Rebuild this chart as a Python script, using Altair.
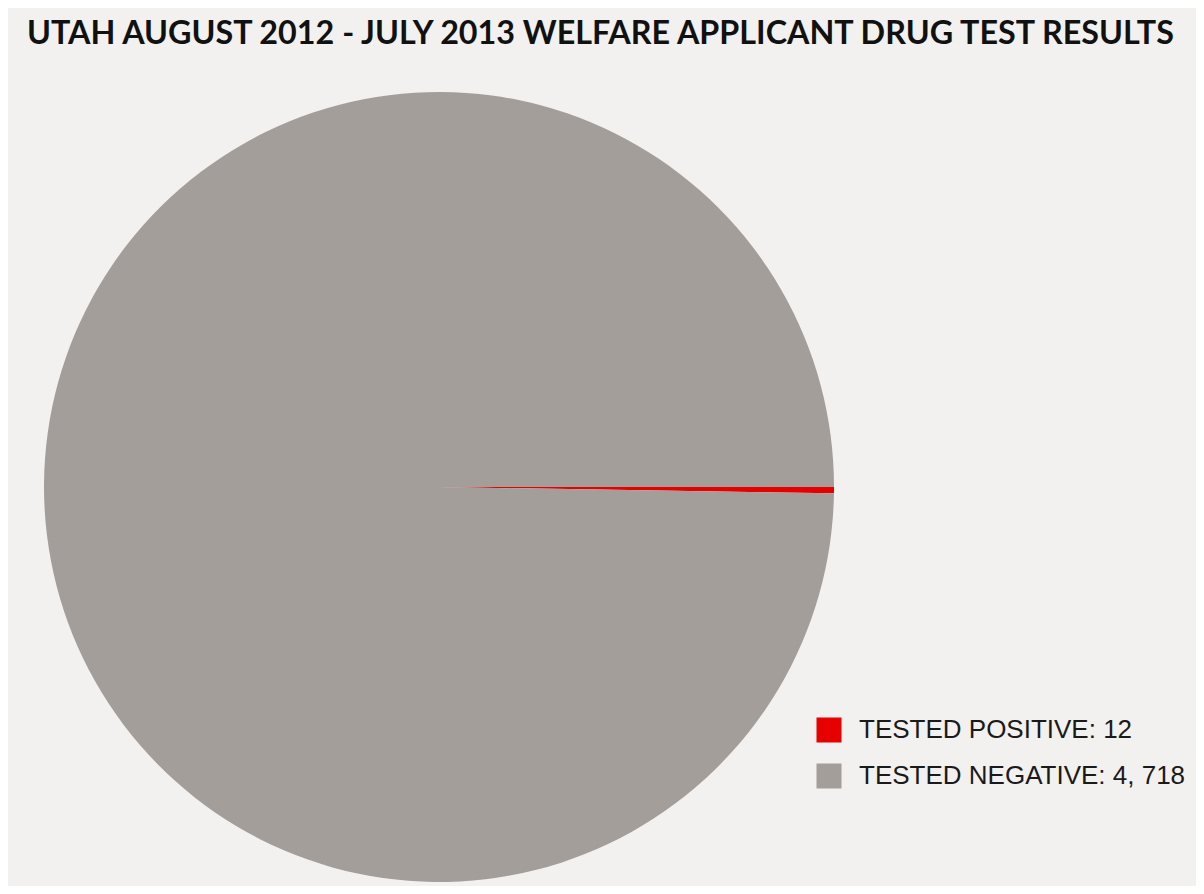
import math
import altair as alt
import pandas as pd

categories = ["TESTED POSITIVE", "TESTED NEGATIVE"]
counts = [12, 4718]
count_labels = ["12", "4, 718"]
colors = ["#e60000", "#a39e99"]
title_text = "UTAH AUGUST 2012 - JULY 2013  WELFARE APPLICANT DRUG TEST RESULTS"

df = pd.DataFrame({
    "result": [f"{c}: {l}" for c, l in zip(categories, count_labels)],
    "count": counts,
    "order": list(range(len(categories))),
})

pie = alt.Chart(df).mark_arc(x=431, y=479, outerRadius=395, stroke=None).encode(
    theta=alt.Theta("count:Q", stack=True,
                    scale=alt.Scale(range=[math.pi / 2, math.pi / 2 + 2 * math.pi])),
    order=alt.Order("order:Q"),
    color=alt.Color("result:N",
                    scale=alt.Scale(domain=list(df["result"]), range=colors),
                    legend=alt.Legend(
                        title=None, orient="none", legendX=808, legendY=709,
                        symbolType="square", symbolSize=625, symbolStrokeWidth=0,
                        symbolOpacity=1,
                        labelFont="Liberation Sans", labelFontSize=26,
                        labelColor="#1a1a1a", labelOffset=17, rowPadding=20,
                        labelLimit=400)),
)

title = alt.Chart(pd.DataFrame({"t": [title_text]})).mark_text(
    font="Lato", fontWeight="bold", fontSize=32.3, color="#111111",
    align="left", baseline="alphabetic", x=19, y=36,
).encode(text="t:N")

chart = alt.layer(pie, title).properties(
    width=1188, height=878,
    autosize=alt.AutoSizeParams(type="fit", contains="padding"),
    padding=0, background="#f2f1ef",
).configure_view(stroke=None)

chart.save("out.html", embed_options={"renderer": "svg", "actions": False})
